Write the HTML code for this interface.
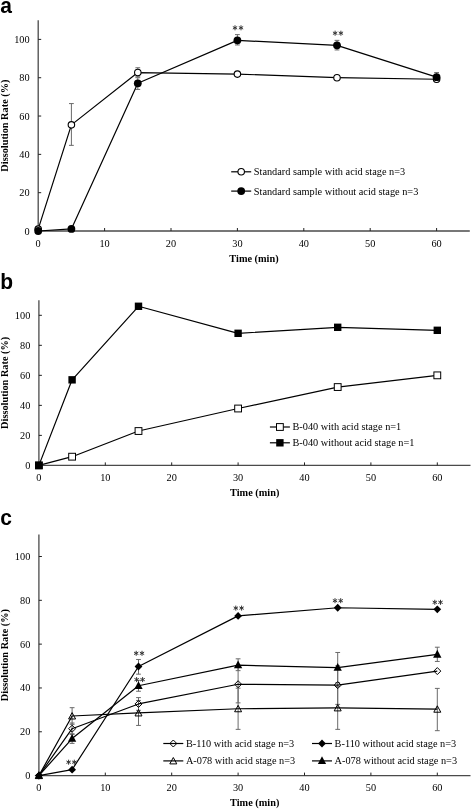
<!DOCTYPE html>
<html><head><meta charset="utf-8"><style>
html,body{margin:0;padding:0;background:#fff;}
body{width:472px;height:810px;overflow:hidden;}
svg{display:block;}
svg{filter:grayscale(1);}
svg text{font-family:"Liberation Serif", serif;font-size:10.3px;fill:#000;}
</style></head><body>
<svg width="472" height="810" viewBox="0 0 472 810">
<rect width="472" height="810" fill="#fff"/>
<text transform="translate(0.3,12.7) scale(1,1.07)" style="font-family:&quot;Liberation Sans&quot;,sans-serif;font-weight:bold;font-size:21px;fill:#000">a</text>
<line x1="38.2" y1="20.24" x2="38.2" y2="231" stroke="#4a4a4a" stroke-width="1.3"/>
<line x1="37.7" y1="231" x2="469.80" y2="231" stroke="#4a4a4a" stroke-width="1.3"/>
<text x="29.60" y="234.50" text-anchor="end">0</text>
<line x1="38.2" y1="192.68" x2="41.20" y2="192.68" stroke="#222" stroke-width="1"/>
<text x="29.60" y="196.18" text-anchor="end">20</text>
<line x1="38.2" y1="154.36" x2="41.20" y2="154.36" stroke="#222" stroke-width="1"/>
<text x="29.60" y="157.86" text-anchor="end">40</text>
<line x1="38.2" y1="116.04" x2="41.20" y2="116.04" stroke="#222" stroke-width="1"/>
<text x="29.60" y="119.54" text-anchor="end">60</text>
<line x1="38.2" y1="77.72" x2="41.20" y2="77.72" stroke="#222" stroke-width="1"/>
<text x="29.60" y="81.22" text-anchor="end">80</text>
<line x1="38.2" y1="39.40" x2="41.20" y2="39.40" stroke="#222" stroke-width="1"/>
<text x="29.60" y="42.90" text-anchor="end">100</text>
<text x="38.20" y="246.80" text-anchor="middle">0</text>
<line x1="104.60" y1="231" x2="104.60" y2="228" stroke="#222" stroke-width="1"/>
<text x="104.60" y="246.80" text-anchor="middle">10</text>
<line x1="171.00" y1="231" x2="171.00" y2="228" stroke="#222" stroke-width="1"/>
<text x="171.00" y="246.80" text-anchor="middle">20</text>
<line x1="237.40" y1="231" x2="237.40" y2="228" stroke="#222" stroke-width="1"/>
<text x="237.40" y="246.80" text-anchor="middle">30</text>
<line x1="303.80" y1="231" x2="303.80" y2="228" stroke="#222" stroke-width="1"/>
<text x="303.80" y="246.80" text-anchor="middle">40</text>
<line x1="370.20" y1="231" x2="370.20" y2="228" stroke="#222" stroke-width="1"/>
<text x="370.20" y="246.80" text-anchor="middle">50</text>
<line x1="436.60" y1="231" x2="436.60" y2="228" stroke="#222" stroke-width="1"/>
<text x="436.60" y="246.80" text-anchor="middle">60</text>
<text x="254.00" y="261.50" text-anchor="middle" font-weight="bold">Time (min)</text>
<text transform="translate(8.2,125.62) rotate(-90)" text-anchor="middle" font-weight="bold">Dissolution Rate (%)</text>
<line x1="71.40" y1="145.35" x2="71.40" y2="103.59" stroke="#6a6a6a" stroke-width="1.0"/>
<line x1="69.00" y1="145.35" x2="73.80" y2="145.35" stroke="#6a6a6a" stroke-width="1.0"/>
<line x1="69.00" y1="103.59" x2="73.80" y2="103.59" stroke="#6a6a6a" stroke-width="1.0"/>
<line x1="137.80" y1="76.76" x2="137.80" y2="67.76" stroke="#6a6a6a" stroke-width="1.0"/>
<line x1="135.40" y1="76.76" x2="140.20" y2="76.76" stroke="#6a6a6a" stroke-width="1.0"/>
<line x1="135.40" y1="67.76" x2="140.20" y2="67.76" stroke="#6a6a6a" stroke-width="1.0"/>
<line x1="237.40" y1="75.80" x2="237.40" y2="71.97" stroke="#6a6a6a" stroke-width="1.0"/>
<line x1="235.00" y1="75.80" x2="239.80" y2="75.80" stroke="#6a6a6a" stroke-width="1.0"/>
<line x1="235.00" y1="71.97" x2="239.80" y2="71.97" stroke="#6a6a6a" stroke-width="1.0"/>
<line x1="337.00" y1="79.64" x2="337.00" y2="75.80" stroke="#6a6a6a" stroke-width="1.0"/>
<line x1="334.60" y1="79.64" x2="339.40" y2="79.64" stroke="#6a6a6a" stroke-width="1.0"/>
<line x1="334.60" y1="75.80" x2="339.40" y2="75.80" stroke="#6a6a6a" stroke-width="1.0"/>
<line x1="436.60" y1="80.59" x2="436.60" y2="77.72" stroke="#6a6a6a" stroke-width="1.0"/>
<line x1="434.20" y1="80.59" x2="439.00" y2="80.59" stroke="#6a6a6a" stroke-width="1.0"/>
<line x1="434.20" y1="77.72" x2="439.00" y2="77.72" stroke="#6a6a6a" stroke-width="1.0"/>
<line x1="137.80" y1="89.41" x2="137.80" y2="77.72" stroke="#6a6a6a" stroke-width="1.0"/>
<line x1="135.40" y1="89.41" x2="140.20" y2="89.41" stroke="#6a6a6a" stroke-width="1.0"/>
<line x1="135.40" y1="77.72" x2="140.20" y2="77.72" stroke="#6a6a6a" stroke-width="1.0"/>
<line x1="237.40" y1="44.96" x2="237.40" y2="34.61" stroke="#6a6a6a" stroke-width="1.0"/>
<line x1="235.00" y1="44.96" x2="239.80" y2="44.96" stroke="#6a6a6a" stroke-width="1.0"/>
<line x1="235.00" y1="34.61" x2="239.80" y2="34.61" stroke="#6a6a6a" stroke-width="1.0"/>
<line x1="337.00" y1="49.94" x2="337.00" y2="40.36" stroke="#6a6a6a" stroke-width="1.0"/>
<line x1="334.60" y1="49.94" x2="339.40" y2="49.94" stroke="#6a6a6a" stroke-width="1.0"/>
<line x1="334.60" y1="40.36" x2="339.40" y2="40.36" stroke="#6a6a6a" stroke-width="1.0"/>
<line x1="436.60" y1="81.74" x2="436.60" y2="72.55" stroke="#6a6a6a" stroke-width="1.0"/>
<line x1="434.20" y1="81.74" x2="439.00" y2="81.74" stroke="#6a6a6a" stroke-width="1.0"/>
<line x1="434.20" y1="72.55" x2="439.00" y2="72.55" stroke="#6a6a6a" stroke-width="1.0"/>
<polyline fill="none" stroke="#000" stroke-width="1.2" stroke-linejoin="round" points="38.20,229.08 71.40,124.85 137.80,72.55 237.40,74.08 337.00,77.72 436.60,79.25"/>
<polyline fill="none" stroke="#000" stroke-width="1.2" stroke-linejoin="round" points="38.20,231.00 71.40,228.89 137.80,83.28 237.40,40.36 337.00,45.34 436.60,77.15"/>
<circle cx="38.20" cy="229.08" r="3.25" fill="#fff" stroke="#000" stroke-width="1.1"/>
<circle cx="71.40" cy="124.85" r="3.25" fill="#fff" stroke="#000" stroke-width="1.1"/>
<circle cx="137.80" cy="72.55" r="3.25" fill="#fff" stroke="#000" stroke-width="1.1"/>
<circle cx="237.40" cy="74.08" r="3.25" fill="#fff" stroke="#000" stroke-width="1.1"/>
<circle cx="337.00" cy="77.72" r="3.25" fill="#fff" stroke="#000" stroke-width="1.1"/>
<circle cx="436.60" cy="79.25" r="3.25" fill="#fff" stroke="#000" stroke-width="1.1"/>
<circle cx="38.20" cy="231.00" r="3.9" fill="#000"/>
<circle cx="71.40" cy="228.89" r="3.9" fill="#000"/>
<circle cx="137.80" cy="83.28" r="3.9" fill="#000"/>
<circle cx="237.40" cy="40.36" r="3.9" fill="#000"/>
<circle cx="337.00" cy="45.34" r="3.9" fill="#000"/>
<circle cx="436.60" cy="77.15" r="3.9" fill="#000"/>
<path d="M235.00,30.30L235.00,25.30M232.83,29.05L237.17,26.55M232.83,26.55L237.17,29.05" stroke="#333" stroke-width="1.0" fill="none"/>
<path d="M241.00,30.30L241.00,25.30M238.83,29.05L243.17,26.55M238.83,26.55L243.17,29.05" stroke="#333" stroke-width="1.0" fill="none"/>
<path d="M335.10,35.70L335.10,30.70M332.93,34.45L337.27,31.95M332.93,31.95L337.27,34.45" stroke="#333" stroke-width="1.0" fill="none"/>
<path d="M340.90,35.70L340.90,30.70M338.73,34.45L343.07,31.95M338.73,31.95L343.07,34.45" stroke="#333" stroke-width="1.0" fill="none"/>
<line x1="231.20" y1="171.80" x2="251.20" y2="171.80" stroke="#000" stroke-width="1.2"/>
<circle cx="241.20" cy="171.80" r="3.25" fill="#fff" stroke="#000" stroke-width="1.1"/>
<text x="253.80" y="175.40">Standard sample with acid stage n=3</text>
<line x1="231.20" y1="191.10" x2="251.20" y2="191.10" stroke="#000" stroke-width="1.2"/>
<circle cx="241.20" cy="191.10" r="3.9" fill="#000"/>
<text x="253.80" y="194.70">Standard sample without acid stage n=3</text>
<text transform="translate(0.3,289) scale(1,1.07)" style="font-family:&quot;Liberation Sans&quot;,sans-serif;font-weight:bold;font-size:21px;fill:#000">b</text>
<line x1="38.9" y1="300.29" x2="38.9" y2="465.4" stroke="#4a4a4a" stroke-width="1.3"/>
<line x1="38.4" y1="465.4" x2="470.50" y2="465.4" stroke="#4a4a4a" stroke-width="1.3"/>
<text x="30.30" y="468.90" text-anchor="end">0</text>
<line x1="38.9" y1="435.38" x2="41.90" y2="435.38" stroke="#222" stroke-width="1"/>
<text x="30.30" y="438.88" text-anchor="end">20</text>
<line x1="38.9" y1="405.36" x2="41.90" y2="405.36" stroke="#222" stroke-width="1"/>
<text x="30.30" y="408.86" text-anchor="end">40</text>
<line x1="38.9" y1="375.34" x2="41.90" y2="375.34" stroke="#222" stroke-width="1"/>
<text x="30.30" y="378.84" text-anchor="end">60</text>
<line x1="38.9" y1="345.32" x2="41.90" y2="345.32" stroke="#222" stroke-width="1"/>
<text x="30.30" y="348.82" text-anchor="end">80</text>
<line x1="38.9" y1="315.30" x2="41.90" y2="315.30" stroke="#222" stroke-width="1"/>
<text x="30.30" y="318.80" text-anchor="end">100</text>
<text x="38.90" y="481.20" text-anchor="middle">0</text>
<line x1="105.30" y1="465.4" x2="105.30" y2="462.4" stroke="#222" stroke-width="1"/>
<text x="105.30" y="481.20" text-anchor="middle">10</text>
<line x1="171.70" y1="465.4" x2="171.70" y2="462.4" stroke="#222" stroke-width="1"/>
<text x="171.70" y="481.20" text-anchor="middle">20</text>
<line x1="238.10" y1="465.4" x2="238.10" y2="462.4" stroke="#222" stroke-width="1"/>
<text x="238.10" y="481.20" text-anchor="middle">30</text>
<line x1="304.50" y1="465.4" x2="304.50" y2="462.4" stroke="#222" stroke-width="1"/>
<text x="304.50" y="481.20" text-anchor="middle">40</text>
<line x1="370.90" y1="465.4" x2="370.90" y2="462.4" stroke="#222" stroke-width="1"/>
<text x="370.90" y="481.20" text-anchor="middle">50</text>
<line x1="437.30" y1="465.4" x2="437.30" y2="462.4" stroke="#222" stroke-width="1"/>
<text x="437.30" y="481.20" text-anchor="middle">60</text>
<text x="254.70" y="495.90" text-anchor="middle" font-weight="bold">Time (min)</text>
<text transform="translate(8.2,382.84) rotate(-90)" text-anchor="middle" font-weight="bold">Dissolution Rate (%)</text>
<polyline fill="none" stroke="#000" stroke-width="1.2" stroke-linejoin="round" points="38.90,465.40 72.10,456.69 138.50,431.03 238.10,408.51 337.70,387.05 437.30,375.34"/>
<polyline fill="none" stroke="#000" stroke-width="1.2" stroke-linejoin="round" points="38.90,465.40 72.10,379.84 138.50,306.29 238.10,333.31 337.70,327.31 437.30,330.31"/>
<rect x="35.50" y="462.00" width="6.8" height="6.8" fill="#fff" stroke="#000" stroke-width="1"/>
<rect x="68.70" y="453.29" width="6.8" height="6.8" fill="#fff" stroke="#000" stroke-width="1"/>
<rect x="135.10" y="427.63" width="6.8" height="6.8" fill="#fff" stroke="#000" stroke-width="1"/>
<rect x="234.70" y="405.11" width="6.8" height="6.8" fill="#fff" stroke="#000" stroke-width="1"/>
<rect x="334.30" y="383.65" width="6.8" height="6.8" fill="#fff" stroke="#000" stroke-width="1"/>
<rect x="433.90" y="371.94" width="6.8" height="6.8" fill="#fff" stroke="#000" stroke-width="1"/>
<rect x="35.20" y="461.70" width="7.4" height="7.4" fill="#000"/>
<rect x="68.40" y="376.14" width="7.4" height="7.4" fill="#000"/>
<rect x="134.80" y="302.59" width="7.4" height="7.4" fill="#000"/>
<rect x="234.40" y="329.61" width="7.4" height="7.4" fill="#000"/>
<rect x="334.00" y="323.61" width="7.4" height="7.4" fill="#000"/>
<rect x="433.60" y="326.61" width="7.4" height="7.4" fill="#000"/>
<line x1="269.90" y1="427.00" x2="289.90" y2="427.00" stroke="#000" stroke-width="1.2"/>
<rect x="276.50" y="423.60" width="6.8" height="6.8" fill="#fff" stroke="#000" stroke-width="1"/>
<text x="292.50" y="429.90">B-040 with acid stage n=1</text>
<line x1="269.90" y1="442.80" x2="289.90" y2="442.80" stroke="#000" stroke-width="1.2"/>
<rect x="276.20" y="439.10" width="7.4" height="7.4" fill="#000"/>
<text x="292.50" y="445.70">B-040 without acid stage n=1</text>
<text transform="translate(0.3,524.7) scale(1,1.07)" style="font-family:&quot;Liberation Sans&quot;,sans-serif;font-weight:bold;font-size:21px;fill:#000">c</text>
<line x1="38.9" y1="534.59" x2="38.9" y2="775.6" stroke="#4a4a4a" stroke-width="1.3"/>
<line x1="38.4" y1="775.6" x2="470.50" y2="775.6" stroke="#4a4a4a" stroke-width="1.3"/>
<text x="30.30" y="779.10" text-anchor="end">0</text>
<line x1="38.9" y1="731.78" x2="41.90" y2="731.78" stroke="#222" stroke-width="1"/>
<text x="30.30" y="735.28" text-anchor="end">20</text>
<line x1="38.9" y1="687.96" x2="41.90" y2="687.96" stroke="#222" stroke-width="1"/>
<text x="30.30" y="691.46" text-anchor="end">40</text>
<line x1="38.9" y1="644.14" x2="41.90" y2="644.14" stroke="#222" stroke-width="1"/>
<text x="30.30" y="647.64" text-anchor="end">60</text>
<line x1="38.9" y1="600.32" x2="41.90" y2="600.32" stroke="#222" stroke-width="1"/>
<text x="30.30" y="603.82" text-anchor="end">80</text>
<line x1="38.9" y1="556.50" x2="41.90" y2="556.50" stroke="#222" stroke-width="1"/>
<text x="30.30" y="560.00" text-anchor="end">100</text>
<text x="38.90" y="791.40" text-anchor="middle">0</text>
<line x1="105.30" y1="775.6" x2="105.30" y2="772.6" stroke="#222" stroke-width="1"/>
<text x="105.30" y="791.40" text-anchor="middle">10</text>
<line x1="171.70" y1="775.6" x2="171.70" y2="772.6" stroke="#222" stroke-width="1"/>
<text x="171.70" y="791.40" text-anchor="middle">20</text>
<line x1="238.10" y1="775.6" x2="238.10" y2="772.6" stroke="#222" stroke-width="1"/>
<text x="238.10" y="791.40" text-anchor="middle">30</text>
<line x1="304.50" y1="775.6" x2="304.50" y2="772.6" stroke="#222" stroke-width="1"/>
<text x="304.50" y="791.40" text-anchor="middle">40</text>
<line x1="370.90" y1="775.6" x2="370.90" y2="772.6" stroke="#222" stroke-width="1"/>
<text x="370.90" y="791.40" text-anchor="middle">50</text>
<line x1="437.30" y1="775.6" x2="437.30" y2="772.6" stroke="#222" stroke-width="1"/>
<text x="437.30" y="791.40" text-anchor="middle">60</text>
<text x="254.70" y="806.10" text-anchor="middle" font-weight="bold">Time (min)</text>
<text transform="translate(8.2,655.10) rotate(-90)" text-anchor="middle" font-weight="bold">Dissolution Rate (%)</text>
<line x1="72.10" y1="734.41" x2="72.10" y2="723.02" stroke="#6a6a6a" stroke-width="1.0"/>
<line x1="69.70" y1="734.41" x2="74.50" y2="734.41" stroke="#6a6a6a" stroke-width="1.0"/>
<line x1="69.70" y1="723.02" x2="74.50" y2="723.02" stroke="#6a6a6a" stroke-width="1.0"/>
<line x1="138.50" y1="710.31" x2="138.50" y2="697.60" stroke="#6a6a6a" stroke-width="1.0"/>
<line x1="136.10" y1="710.31" x2="140.90" y2="710.31" stroke="#6a6a6a" stroke-width="1.0"/>
<line x1="136.10" y1="697.60" x2="140.90" y2="697.60" stroke="#6a6a6a" stroke-width="1.0"/>
<line x1="238.10" y1="702.86" x2="238.10" y2="665.61" stroke="#6a6a6a" stroke-width="1.0"/>
<line x1="235.70" y1="702.86" x2="240.50" y2="702.86" stroke="#6a6a6a" stroke-width="1.0"/>
<line x1="235.70" y1="665.61" x2="240.50" y2="665.61" stroke="#6a6a6a" stroke-width="1.0"/>
<line x1="337.70" y1="704.39" x2="337.70" y2="665.83" stroke="#6a6a6a" stroke-width="1.0"/>
<line x1="335.30" y1="704.39" x2="340.10" y2="704.39" stroke="#6a6a6a" stroke-width="1.0"/>
<line x1="335.30" y1="665.83" x2="340.10" y2="665.83" stroke="#6a6a6a" stroke-width="1.0"/>
<line x1="72.10" y1="724.33" x2="72.10" y2="707.68" stroke="#6a6a6a" stroke-width="1.0"/>
<line x1="69.70" y1="724.33" x2="74.50" y2="724.33" stroke="#6a6a6a" stroke-width="1.0"/>
<line x1="69.70" y1="707.68" x2="74.50" y2="707.68" stroke="#6a6a6a" stroke-width="1.0"/>
<line x1="138.50" y1="725.43" x2="138.50" y2="700.45" stroke="#6a6a6a" stroke-width="1.0"/>
<line x1="136.10" y1="725.43" x2="140.90" y2="725.43" stroke="#6a6a6a" stroke-width="1.0"/>
<line x1="136.10" y1="700.45" x2="140.90" y2="700.45" stroke="#6a6a6a" stroke-width="1.0"/>
<line x1="238.10" y1="729.37" x2="238.10" y2="688.18" stroke="#6a6a6a" stroke-width="1.0"/>
<line x1="235.70" y1="729.37" x2="240.50" y2="729.37" stroke="#6a6a6a" stroke-width="1.0"/>
<line x1="235.70" y1="688.18" x2="240.50" y2="688.18" stroke="#6a6a6a" stroke-width="1.0"/>
<line x1="337.70" y1="729.37" x2="337.70" y2="686.43" stroke="#6a6a6a" stroke-width="1.0"/>
<line x1="335.30" y1="729.37" x2="340.10" y2="729.37" stroke="#6a6a6a" stroke-width="1.0"/>
<line x1="335.30" y1="686.43" x2="340.10" y2="686.43" stroke="#6a6a6a" stroke-width="1.0"/>
<line x1="437.30" y1="730.68" x2="437.30" y2="688.40" stroke="#6a6a6a" stroke-width="1.0"/>
<line x1="434.90" y1="730.68" x2="439.70" y2="730.68" stroke="#6a6a6a" stroke-width="1.0"/>
<line x1="434.90" y1="688.40" x2="439.70" y2="688.40" stroke="#6a6a6a" stroke-width="1.0"/>
<line x1="72.10" y1="743.39" x2="72.10" y2="733.75" stroke="#6a6a6a" stroke-width="1.0"/>
<line x1="69.70" y1="743.39" x2="74.50" y2="743.39" stroke="#6a6a6a" stroke-width="1.0"/>
<line x1="69.70" y1="733.75" x2="74.50" y2="733.75" stroke="#6a6a6a" stroke-width="1.0"/>
<line x1="138.50" y1="691.25" x2="138.50" y2="680.29" stroke="#6a6a6a" stroke-width="1.0"/>
<line x1="136.10" y1="691.25" x2="140.90" y2="691.25" stroke="#6a6a6a" stroke-width="1.0"/>
<line x1="136.10" y1="680.29" x2="140.90" y2="680.29" stroke="#6a6a6a" stroke-width="1.0"/>
<line x1="238.10" y1="670.65" x2="238.10" y2="658.82" stroke="#6a6a6a" stroke-width="1.0"/>
<line x1="235.70" y1="670.65" x2="240.50" y2="670.65" stroke="#6a6a6a" stroke-width="1.0"/>
<line x1="235.70" y1="658.82" x2="240.50" y2="658.82" stroke="#6a6a6a" stroke-width="1.0"/>
<line x1="337.70" y1="682.70" x2="337.70" y2="652.47" stroke="#6a6a6a" stroke-width="1.0"/>
<line x1="335.30" y1="682.70" x2="340.10" y2="682.70" stroke="#6a6a6a" stroke-width="1.0"/>
<line x1="335.30" y1="652.47" x2="340.10" y2="652.47" stroke="#6a6a6a" stroke-width="1.0"/>
<line x1="437.30" y1="661.45" x2="437.30" y2="647.21" stroke="#6a6a6a" stroke-width="1.0"/>
<line x1="434.90" y1="661.45" x2="439.70" y2="661.45" stroke="#6a6a6a" stroke-width="1.0"/>
<line x1="434.90" y1="647.21" x2="439.70" y2="647.21" stroke="#6a6a6a" stroke-width="1.0"/>
<line x1="138.50" y1="674.16" x2="138.50" y2="659.48" stroke="#6a6a6a" stroke-width="1.0"/>
<line x1="136.10" y1="674.16" x2="140.90" y2="674.16" stroke="#6a6a6a" stroke-width="1.0"/>
<line x1="136.10" y1="659.48" x2="140.90" y2="659.48" stroke="#6a6a6a" stroke-width="1.0"/>
<polyline fill="none" stroke="#000" stroke-width="1.2" stroke-linejoin="round" points="38.90,775.60 72.10,728.71 138.50,703.95 238.10,684.24 337.70,685.11 437.30,671.09"/>
<polyline fill="none" stroke="#000" stroke-width="1.2" stroke-linejoin="round" points="38.90,775.60 72.10,716.00 138.50,712.94 238.10,708.77 337.70,707.90 437.30,709.21"/>
<polyline fill="none" stroke="#000" stroke-width="1.2" stroke-linejoin="round" points="38.90,775.60 72.10,738.57 138.50,685.77 238.10,665.17 337.70,667.58 437.30,654.44"/>
<polyline fill="none" stroke="#000" stroke-width="1.2" stroke-linejoin="round" points="38.90,775.60 72.10,769.68 138.50,666.49 238.10,615.88 337.70,607.77 437.30,609.30"/>
<path d="M38.90,772.10 L42.40,775.60 L38.90,779.10 L35.40,775.60Z" fill="none" stroke="#000" stroke-width="1"/>
<path d="M72.10,725.21 L75.60,728.71 L72.10,732.21 L68.60,728.71Z" fill="none" stroke="#000" stroke-width="1"/>
<path d="M138.50,700.45 L142.00,703.95 L138.50,707.45 L135.00,703.95Z" fill="none" stroke="#000" stroke-width="1"/>
<path d="M238.10,680.74 L241.60,684.24 L238.10,687.74 L234.60,684.24Z" fill="none" stroke="#000" stroke-width="1"/>
<path d="M337.70,681.61 L341.20,685.11 L337.70,688.61 L334.20,685.11Z" fill="none" stroke="#000" stroke-width="1"/>
<path d="M437.30,667.59 L440.80,671.09 L437.30,674.59 L433.80,671.09Z" fill="none" stroke="#000" stroke-width="1"/>
<path d="M38.90,772.20 L42.40,778.60 L35.40,778.60Z" fill="none" stroke="#000" stroke-width="1" stroke-linejoin="miter"/>
<path d="M72.10,712.60 L75.60,719.00 L68.60,719.00Z" fill="none" stroke="#000" stroke-width="1" stroke-linejoin="miter"/>
<path d="M138.50,709.54 L142.00,715.94 L135.00,715.94Z" fill="none" stroke="#000" stroke-width="1" stroke-linejoin="miter"/>
<path d="M238.10,705.37 L241.60,711.77 L234.60,711.77Z" fill="none" stroke="#000" stroke-width="1" stroke-linejoin="miter"/>
<path d="M337.70,704.50 L341.20,710.90 L334.20,710.90Z" fill="none" stroke="#000" stroke-width="1" stroke-linejoin="miter"/>
<path d="M437.30,705.81 L440.80,712.21 L433.80,712.21Z" fill="none" stroke="#000" stroke-width="1" stroke-linejoin="miter"/>
<path d="M38.90,771.00 L43.05,778.80 L34.75,778.80Z" fill="#000"/>
<path d="M72.10,733.97 L76.25,741.77 L67.95,741.77Z" fill="#000"/>
<path d="M138.50,681.17 L142.65,688.97 L134.35,688.97Z" fill="#000"/>
<path d="M238.10,660.57 L242.25,668.37 L233.95,668.37Z" fill="#000"/>
<path d="M337.70,662.98 L341.85,670.78 L333.55,670.78Z" fill="#000"/>
<path d="M437.30,649.84 L441.45,657.64 L433.15,657.64Z" fill="#000"/>
<path d="M38.90,771.70 L42.80,775.60 L38.90,779.50 L35.00,775.60Z" fill="#000"/>
<path d="M72.10,765.78 L76.00,769.68 L72.10,773.58 L68.20,769.68Z" fill="#000"/>
<path d="M138.50,662.59 L142.40,666.49 L138.50,670.39 L134.60,666.49Z" fill="#000"/>
<path d="M238.10,611.98 L242.00,615.88 L238.10,619.78 L234.20,615.88Z" fill="#000"/>
<path d="M337.70,603.87 L341.60,607.77 L337.70,611.67 L333.80,607.77Z" fill="#000"/>
<path d="M437.30,605.40 L441.20,609.30 L437.30,613.20 L433.40,609.30Z" fill="#000"/>
<path d="M68.60,764.70L68.60,759.70M66.43,763.45L70.77,760.95M66.43,760.95L70.77,763.45" stroke="#333" stroke-width="1.0" fill="none"/>
<path d="M74.30,764.70L74.30,759.70M72.13,763.45L76.47,760.95M72.13,760.95L76.47,763.45" stroke="#333" stroke-width="1.0" fill="none"/>
<path d="M136.20,655.80L136.20,650.80M134.03,654.55L138.37,652.05M134.03,652.05L138.37,654.55" stroke="#333" stroke-width="1.0" fill="none"/>
<path d="M142.00,655.80L142.00,650.80M139.83,654.55L144.17,652.05M139.83,652.05L144.17,654.55" stroke="#333" stroke-width="1.0" fill="none"/>
<path d="M136.60,682.10L136.60,677.10M134.43,680.85L138.77,678.35M134.43,678.35L138.77,680.85" stroke="#333" stroke-width="1.0" fill="none"/>
<path d="M142.60,682.10L142.60,677.10M140.43,680.85L144.77,678.35M140.43,678.35L144.77,680.85" stroke="#333" stroke-width="1.0" fill="none"/>
<path d="M235.80,610.60L235.80,605.60M233.63,609.35L237.97,606.85M233.63,606.85L237.97,609.35" stroke="#333" stroke-width="1.0" fill="none"/>
<path d="M241.60,610.60L241.60,605.60M239.43,609.35L243.77,606.85M239.43,606.85L243.77,609.35" stroke="#333" stroke-width="1.0" fill="none"/>
<path d="M335.00,603.20L335.00,598.20M332.83,601.95L337.17,599.45M332.83,599.45L337.17,601.95" stroke="#333" stroke-width="1.0" fill="none"/>
<path d="M340.70,603.20L340.70,598.20M338.53,601.95L342.87,599.45M338.53,599.45L342.87,601.95" stroke="#333" stroke-width="1.0" fill="none"/>
<path d="M434.80,604.80L434.80,599.80M432.63,603.55L436.97,601.05M432.63,601.05L436.97,603.55" stroke="#333" stroke-width="1.0" fill="none"/>
<path d="M440.50,604.80L440.50,599.80M438.33,603.55L442.67,601.05M438.33,601.05L442.67,603.55" stroke="#333" stroke-width="1.0" fill="none"/>
<line x1="163.30" y1="743.50" x2="183.30" y2="743.50" stroke="#000" stroke-width="1.2"/>
<path d="M173.30,740.00 L176.80,743.50 L173.30,747.00 L169.80,743.50Z" fill="none" stroke="#000" stroke-width="1"/>
<text x="185.90" y="747.00">B-110 with acid stage n=3</text>
<line x1="163.30" y1="760.90" x2="183.30" y2="760.90" stroke="#000" stroke-width="1.2"/>
<path d="M173.30,757.50 L176.80,763.90 L169.80,763.90Z" fill="none" stroke="#000" stroke-width="1" stroke-linejoin="miter"/>
<text x="185.90" y="764.40">A-078 with acid stage n=3</text>
<line x1="312.00" y1="743.50" x2="332.00" y2="743.50" stroke="#000" stroke-width="1.2"/>
<path d="M322.00,739.60 L325.90,743.50 L322.00,747.40 L318.10,743.50Z" fill="#000"/>
<text x="334.60" y="747.00">B-110 without acid stage n=3</text>
<line x1="312.00" y1="760.90" x2="332.00" y2="760.90" stroke="#000" stroke-width="1.2"/>
<path d="M322.00,756.30 L326.15,764.10 L317.85,764.10Z" fill="#000"/>
<text x="334.60" y="764.40">A-078 without acid stage n=3</text>
</svg>
</body></html>
